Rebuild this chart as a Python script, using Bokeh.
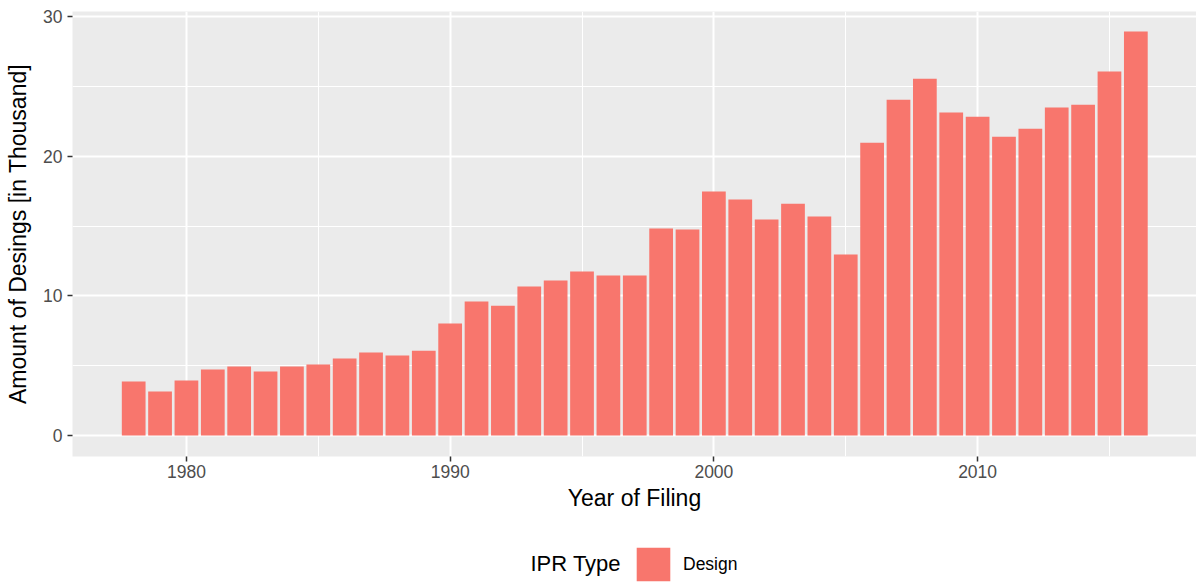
from bokeh.plotting import figure
from bokeh.layouts import column
from bokeh.models import (ColumnDataSource, Range1d, FixedTicker, Legend, LegendItem, Label)
from bokeh.embed import file_html
from bokeh.resources import INLINE

years = list(range(1978, 2017))
designs = [3.87, 3.15, 3.94, 4.72, 4.94, 4.58, 4.94, 5.08, 5.51, 5.94,
           5.73, 6.08, 8.02, 9.60, 9.30, 10.67, 11.10, 11.74, 11.45, 11.45,
           14.82, 14.75, 17.47, 16.90, 15.46, 16.60, 15.68, 12.96, 20.97, 24.05,
           25.55, 23.12, 22.83, 21.40, 21.97, 23.48, 23.69, 26.06, 28.92]
x_ticks = [1980, 1990, 2000, 2010]
x_minor = [1975, 1985, 1995, 2005, 2015]
y_ticks = [0, 10, 20, 30]
y_minor = [5, 15, 25]
legend_title = "IPR Type"
series_name = "Design"

FONT = "Liberation Sans"
BAR = "#F8766D"
W = 1196
H1 = 528
H2 = 55

src = ColumnDataSource(dict(year=years, value=designs))

p = figure(width=W, height=H1, output_backend="svg", toolbar_location=None,
           x_range=Range1d(1975.68, 2018.3), y_range=Range1d(-1.5, 30.36),
           min_border_left=72, min_border_right=0, min_border_top=11,
           min_border_bottom=H1 - 456)

p.background_fill_color = "#EBEBEB"
p.border_fill_color = "white"
p.outline_line_color = None

bars = p.vbar(x="year", top="value", width=0.9, source=src, fill_color=BAR, line_color=None)

p.xaxis.ticker = FixedTicker(ticks=x_ticks, minor_ticks=x_minor)
p.yaxis.ticker = FixedTicker(ticks=y_ticks, minor_ticks=y_minor)

for ax in (p.xaxis, p.yaxis):
    ax.axis_line_color = None
    ax.major_tick_line_color = "#333333"
    ax.major_tick_line_width = 1.5
    ax.major_tick_out = 5
    ax.major_tick_in = 0
    ax.minor_tick_line_color = None
    ax.major_label_text_font = FONT
    ax.major_label_text_font_size = "17.5px"
    ax.major_label_text_color = "#4D4D4D"
    ax.axis_label_text_font = FONT
    ax.axis_label_text_font_size = "23px"
    ax.axis_label_text_font_style = "normal"
    ax.axis_label_text_color = "black"

p.xaxis.axis_label = "Year of Filing"
p.yaxis.axis_label = "Amount of Desings [in Thousand]"
p.xaxis.major_label_standoff = 3
p.yaxis.major_label_standoff = 5
p.xaxis.axis_label_standoff = 4
p.yaxis.axis_label_standoff = 9

for g in (p.xgrid, p.ygrid):
    g.grid_line_color = "white"
    g.grid_line_width = 2
    g.minor_grid_line_color = "white"
    g.minor_grid_line_width = 1

# legend strip below the plot (its frame is aligned with the main frame at x=72)
q = figure(width=W, height=H2, output_backend="svg", toolbar_location=None,
           x_range=Range1d(0, 1), y_range=Range1d(0, 1),
           x_axis_type=None, y_axis_type=None,
           min_border_left=0, min_border_right=0, min_border_top=0, min_border_bottom=0)
q.grid.visible = False
q.outline_line_color = None
q.background_fill_color = "white"
q.border_fill_color = "white"
key = q.vbar(x=[5], top=[1], width=0.9, fill_color=BAR, line_color=None)

legend = Legend(items=[LegendItem(label=series_name, renderers=[key])],
                location=(560, -2), orientation="horizontal",
                padding=0, margin=0, glyph_width=42, glyph_height=42,
                label_standoff=9, label_text_font=FONT, label_text_font_size="17.5px",
                label_text_color="black", border_line_color=None,
                background_fill_alpha=0)
q.add_layout(legend, "center")

title = Label(x=458, y=20, x_units="screen", y_units="screen", text=legend_title,
              text_font=FONT, text_font_size="22px", text_color="black",
              text_baseline="middle", text_align="left")
q.add_layout(title)

layout = column(p, q, spacing=0)
open("out.html", "w").write(file_html(layout, INLINE))
